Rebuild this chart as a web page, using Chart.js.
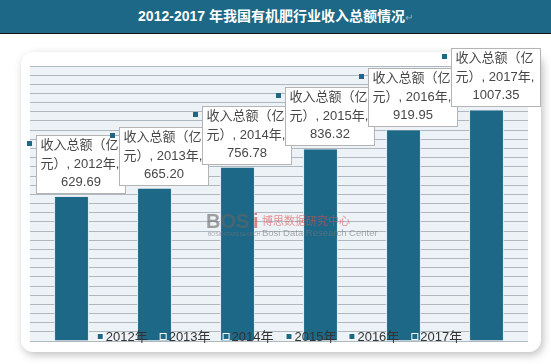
<!DOCTYPE html>
<html>
<head>
<meta charset="utf-8">
<script src="https://cdn.jsdelivr.net/npm/chart.js@4/dist/chart.umd.min.js"></script>
<style>
  html, body { margin: 0; padding: 0; background: #fff; }
  #wrap { position: relative; width: 551px; height: 364px; overflow: hidden; }
  #title {
    position: absolute; left: 0; top: 0; width: 551px; height: 33px;
    background: #1c6886; border-bottom: 1px solid #111;
    color: #fff; font: bold 14px "Liberation Sans", "Noto Sans CJK SC", sans-serif;
    line-height: 33px; text-align: center; z-index: 2;
  }
  #title span { color: #9ab; font-weight: normal; font-size: 10px; }
  #chart { position: absolute; left: 0; top: 0; }
</style>
</head>
<body>
<div id="wrap">
  <div id="title">2012-2017 年我国有机肥行业收入总额情况<span>↵</span></div>
  <canvas id="chart" width="551" height="364"></canvas>
</div>
<script>
const years = ['2012年', '2013年', '2014年', '2015年', '2016年', '2017年'];
const revenue = [629.69, 665.20, 756.78, 836.32, 919.95, 1007.35];
const seriesName = '收入总额（亿元）';

const barColor = '#1c6886';
const fontFamily = '"Liberation Sans", "Noto Sans CJK SC", sans-serif';

// panel + plot background
const backdrop = {
    id: 'backdrop',
    beforeDraw(chart) {
        const ctx = chart.ctx;
        const a = chart.chartArea;
        ctx.save();
        ctx.shadowColor = 'rgba(0,0,0,0.25)';
        ctx.shadowBlur = 8;
        ctx.shadowOffsetX = 2;
        ctx.shadowOffsetY = 3;
        ctx.fillStyle = '#ffffff';
        ctx.beginPath();
        ctx.roundRect(21, 52, 520, 300, 12);
        ctx.fill();
        ctx.restore();
        ctx.save();
        ctx.fillStyle = '#edf2f7';
        ctx.fillRect(a.left, a.top, a.right - a.left, a.bottom - a.top);
        ctx.restore();
    }
};

// watermark in the middle
const watermark = {
    id: 'watermark',
    afterDatasetsDraw(chart) {
        const ctx = chart.ctx;
        ctx.save();
        ctx.globalAlpha = 0.6;
        ctx.textBaseline = 'middle';
        ctx.font = 'bold 20px ' + fontFamily;
        ctx.fillStyle = '#666';
        ctx.fillText('BOS', 206, 222);
        ctx.fillStyle = '#d23a36';
        ctx.fillText('i', 253, 222);
        ctx.font = '5px ' + fontFamily;
        ctx.fillStyle = '#777';
        ctx.fillText('BOSIDATARESEARCH', 208, 235);
        ctx.font = '11px "Noto Sans CJK SC", sans-serif';
        ctx.fillStyle = '#e0504c';
        ctx.fillText('博思数据研究中心', 262, 221);
        ctx.font = '9.5px ' + fontFamily;
        ctx.fillStyle = '#777';
        ctx.fillText('Bosi Data Research Center', 262, 233);
        ctx.restore();
    }
};

// callout boxes above each bar
const callouts = {
    id: 'callouts',
    afterDatasetsDraw(chart) {
        const ctx = chart.ctx;
        const meta = chart.getDatasetMeta(0);
        meta.data.forEach((bar, i) => {
            const w = 89, h = 58;
            const left = Math.round(bar.x + 8.5 - w / 2) + 0.5;
            const top = Math.round(bar.y - 4 - h) + 0.5;
            ctx.save();
            ctx.fillStyle = barColor;
            ctx.fillRect(left - 9.5, top + 5.5, 5, 5);
            ctx.fillStyle = '#fff';
            ctx.strokeStyle = '#b4b4b4';
            ctx.lineWidth = 1;
            ctx.fillRect(left, top, w, h);
            ctx.strokeRect(left, top, w, h);
            ctx.beginPath();
            ctx.rect(left, top, w, h);
            ctx.clip();
            ctx.fillStyle = '#474747';
            ctx.font = '13px ' + fontFamily;
            ctx.textBaseline = 'middle';
            ctx.textAlign = 'left';
            ctx.fillText('收入总额（亿', left + 4, top + 10);
            ctx.fillText('元）, ' + years[i] + ',', left + 4, top + 29);
            ctx.textAlign = 'center';
            ctx.fillText(revenue[i].toFixed(2), left + w / 2, top + 47);
            ctx.restore();
        });
    }
};

// legend drawn across the bottom of the plot
const bottomLegend = {
    id: 'bottomLegend',
    afterDraw(chart) {
        const ctx = chart.ctx;
        const a = chart.chartArea;
        ctx.save();
        ctx.font = '13px ' + fontFamily;
        ctx.textBaseline = 'middle';
        const gap = 13;
        const widths = years.map(y => 8 + ctx.measureText(y).width);
        const total = widths.reduce((s, v) => s + v, 0) + gap * (years.length - 1);
        let x = (a.left + a.right) / 2 - total / 2 + 1;
        const y = 336;
        years.forEach((label, i) => {
            ctx.fillStyle = '#fff';
            ctx.fillRect(x - 1, y - 3, 7, 7);
            ctx.fillStyle = barColor;
            ctx.fillRect(x, y - 2, 5, 5);
            ctx.fillStyle = '#333';
            ctx.fillText(label, x + 8, y + 1);
            x += widths[i] + gap;
        });
        ctx.restore();
    }
};

new Chart(document.getElementById('chart'), {
    type: 'bar',
    data: {
        labels: years,
        datasets: [{
            label: seriesName,
            data: revenue,
            backgroundColor: barColor,
            borderColor: '#d8eef5',
            borderWidth: { left: 1, right: 1, top: 0, bottom: 0 },
            barPercentage: 0.42,
            categoryPercentage: 1
        }]
    },
    options: {
        responsive: false,
        animation: false,
        layout: { padding: { left: 30, right: 23, top: 66, bottom: 23 } },
        plugins: {
            legend: { display: false },
            tooltip: { enabled: false },
            title: { display: false }
        },
        scales: {
            x: { display: false },
            y: {
                min: 0,
                max: 1200,
                ticks: { display: false, stepSize: 40 },
                border: { display: false },
                grid: { color: '#b0b8bf', drawTicks: false, lineWidth: 1 }
            }
        }
    },
    plugins: [backdrop, watermark, callouts, bottomLegend]
});
</script>
</body>
</html>
